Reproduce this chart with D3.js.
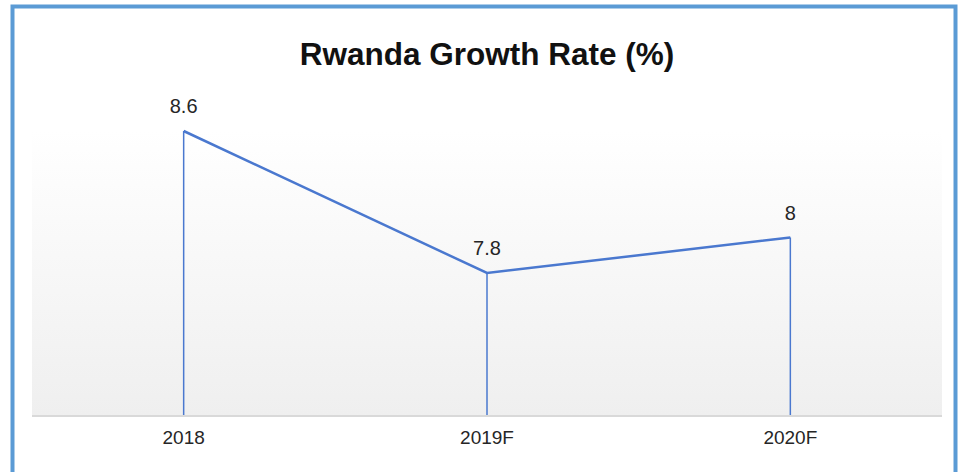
<!DOCTYPE html>
<html>
<head>
<meta charset="utf-8">
<script src="https://cdn.jsdelivr.net/npm/d3@7"></script>
<style>
  body { margin: 0; background: #fff; }
  svg { display: block; }
</style>
</head>
<body>
<svg id="chart" width="962" height="472"></svg>
<script>
var years = ["2018", "2019F", "2020F"]
var growth = [8.6, 7.8, 8]
var yDomain = [7, 8.6]

var svg = d3.select("#chart")
var plot = {left: 32, right: 942, top: 131, bottom: 415}

// outer frame
svg.append("rect")
    .attr("x", 12.5).attr("y", 6.5)
    .attr("width", 943).attr("height", 480)
    .attr("fill", "none")
    .attr("stroke", "#5b9bd5")
    .attr("stroke-width", 4)

var defs = svg.append("defs")
var grad = defs.append("linearGradient")
    .attr("id", "bg").attr("x1", 0).attr("y1", 0).attr("x2", 0).attr("y2", 1)
grad.append("stop").attr("offset", "0%").attr("stop-color", "#ffffff")
grad.append("stop").attr("offset", "100%").attr("stop-color", "#efefef")

svg.append("rect")
    .attr("x", plot.left).attr("y", plot.top)
    .attr("width", plot.right - plot.left).attr("height", plot.bottom - plot.top)
    .attr("fill", "url(#bg)")

svg.append("text")
    .attr("x", 487).attr("y", 65)
    .attr("text-anchor", "middle")
    .attr("font-family", "Liberation Sans, Arial, sans-serif")
    .attr("font-weight", "bold")
    .attr("font-size", 31.5)
    .attr("fill", "#111")
    .text("Rwanda Growth Rate (%)")

var x = d3.scaleBand().domain(years).range([plot.left, plot.right]).padding(0)
var y = d3.scaleLinear().domain(yDomain).range([plot.bottom, plot.top])

var data = years.map(function(d, i){ return {year: d, value: growth[i]} })
var cx = function(d){ return x(d.year) + x.bandwidth() / 2 }

// baseline
svg.append("line")
    .attr("x1", plot.left).attr("x2", plot.right)
    .attr("y1", plot.bottom + 1).attr("y2", plot.bottom + 1)
    .attr("stroke", "#d9d9d9").attr("stroke-width", 2)

// drop lines
svg.selectAll(".drop")
    .data(data).enter()
    .append("line")
        .attr("x1", cx).attr("x2", cx)
        .attr("y1", function(d){ return y(d.value) })
        .attr("y2", plot.bottom)
        .attr("stroke", "#4a78cf")
        .attr("stroke-width", 1.5)

var line = d3.line().x(cx).y(function(d){ return y(d.value) })
svg.append("path")
    .datum(data)
    .attr("d", line)
    .attr("fill", "none")
    .attr("stroke", "#4a78cf")
    .attr("stroke-width", 2.5)
    .attr("stroke-linejoin", "miter")

svg.selectAll(".val")
    .data(data).enter()
    .append("text")
        .attr("x", cx)
        .attr("y", function(d){ return y(d.value) - 18 })
        .attr("text-anchor", "middle")
        .attr("font-family", "Liberation Sans, Arial, sans-serif")
        .attr("font-size", 20)
        .attr("fill", "#262626")
        .text(function(d){ return d.value })

var xAxis = svg.append("g")
    .attr("transform", "translate(0," + plot.bottom + ")")
    .call(d3.axisBottom(x).tickSize(0).tickPadding(29))
xAxis.select(".domain").remove()
xAxis.selectAll("text")
    .attr("font-family", "Liberation Sans, Arial, sans-serif")
    .attr("font-size", 19)
    .attr("fill", "#262626")
    .attr("dy", 0)
</script>
</body>
</html>
